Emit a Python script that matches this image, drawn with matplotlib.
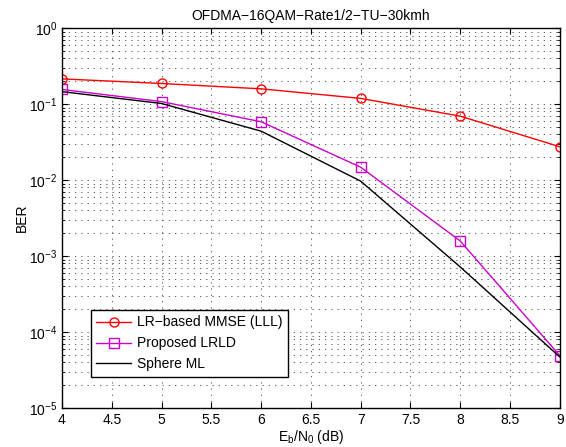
import numpy as np
import matplotlib
matplotlib.use('Agg')
import matplotlib.pyplot as plt
from matplotlib.ticker import LogLocator, NullFormatter

plt.rcParams['font.family'] = ['Liberation Sans', 'DejaVu Sans']
plt.rcParams['mathtext.fontset'] = 'custom'
plt.rcParams['mathtext.rm'] = 'Liberation Sans'
plt.rcParams['mathtext.it'] = 'Liberation Sans'

# data
ebn0 = [4, 5, 6, 7, 8, 9]
ber_mmse = [0.215, 0.187, 0.159, 0.119, 0.0695, 0.0275]
ber_lrld = [0.156, 0.108, 0.0586, 0.0148, 0.00158, 4.9e-5]
ber_ml = [0.146, 0.102, 0.0441, 0.0097, 7.2e-4, 4.7e-5]
labels = ['LR\u2212based MMSE (LLL)', 'Proposed LRLD', 'Sphere ML']

fig = plt.figure(figsize=(5.66, 4.47), dpi=100)
ax = fig.add_axes([0.1095, 0.0872, 0.8795, 0.8498])

ax.semilogy(ebn0, ber_mmse, color='red', marker='o', markersize=6.5,
            markerfacecolor='none', linewidth=1, label=labels[0])
ax.semilogy(ebn0, ber_lrld, color='#cc00cc', marker='s', markersize=6.5,
            markerfacecolor='none', linewidth=1, label=labels[1])
ax.semilogy(ebn0, ber_ml, color='black', linewidth=1, label=labels[2])

ax.set_xlim(4, 9)
ax.set_ylim(1e-5, 1)
ax.set_xticks(np.arange(4, 9.01, 0.5))
ax.set_xticklabels(['4', '4.5', '5', '5.5', '6', '6.5', '7', '7.5', '8', '8.5', '9'])
ax.yaxis.set_major_locator(LogLocator(base=10, numticks=10))
ax.yaxis.set_minor_locator(LogLocator(base=10, subs=np.arange(2, 10), numticks=20))
ax.yaxis.set_minor_formatter(NullFormatter())

grid_style = dict(linestyle=(0, (1.5, 6)), color='#444444', linewidth=0.6)
ax.grid(True, which='major', **grid_style)
ax.grid(True, which='minor', axis='y', **grid_style)
ax.tick_params(which='both', direction='in', top=True, right=True, labelsize=10)
ax.tick_params(which='major', length=4)
ax.tick_params(which='minor', length=2)
for s in ax.spines.values():
    s.set_linewidth(1)

ax.set_title('OFDMA\u221216QAM\u2212Rate1/2\u2212TU\u221230kmh', fontsize=10)
ax.set_xlabel('E$_\\mathrm{b}$/N$_\\mathrm{0}$ (dB)', fontsize=10, labelpad=1)
ax.set_ylabel('BER', fontsize=10, labelpad=0)

leg = ax.legend(loc='lower left', bbox_to_anchor=(0.058, 0.082), fontsize=10,
                fancybox=False, edgecolor='black', framealpha=1,
                borderaxespad=0, handlelength=2.5, handletextpad=0.4,
                borderpad=0.4, labelspacing=0.5)
leg.get_frame().set_linewidth(1)

fig.savefig('out.png', dpi=100)
